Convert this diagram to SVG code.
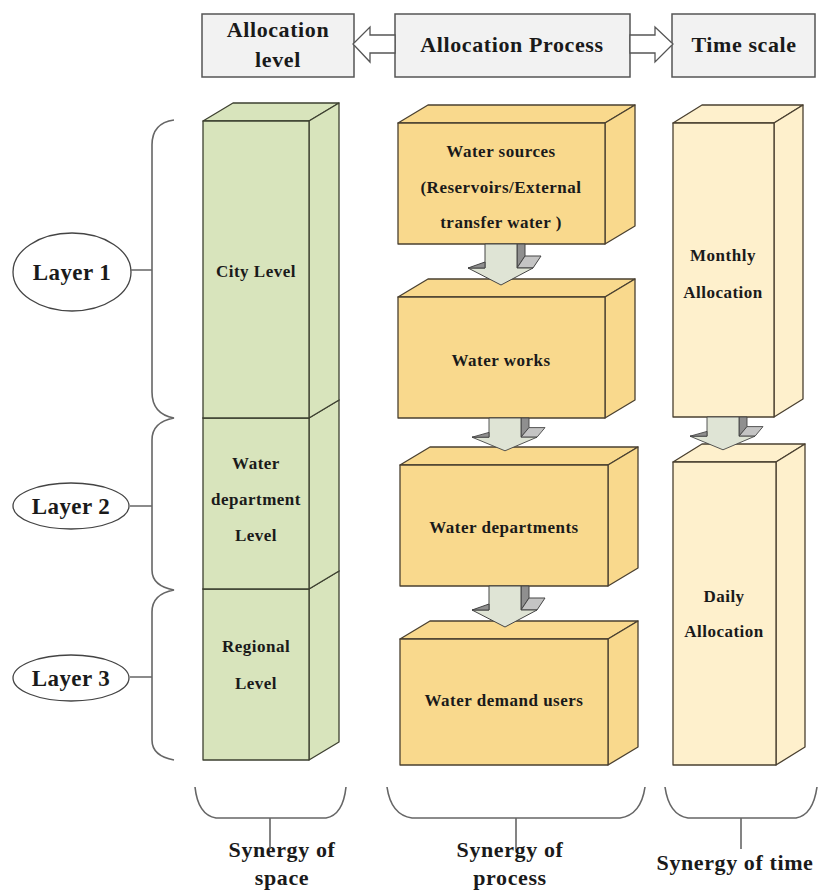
<svg xmlns="http://www.w3.org/2000/svg" width="818" height="890" viewBox="0 0 818 890">
<style>
text{font-family:"Liberation Serif","Times New Roman",serif;font-weight:bold;fill:#1a1a1a;text-anchor:middle}
.hd{font-size:22px;letter-spacing:0.6px}
.bx{font-size:17px;letter-spacing:0.5px}
.ly{font-size:23px;letter-spacing:0.4px}
.sy{font-size:22px;letter-spacing:0.6px}
.hbox{fill:#f2f2f2;stroke:#555;stroke-width:1.5}
.harrow{fill:#fff;stroke:#555;stroke-width:1.3}
.green{fill:#d8e4bc;stroke:#3d4030;stroke-width:1.3;stroke-linejoin:round}
.orange{fill:#f9d98d;stroke:#4a4030;stroke-width:1.3;stroke-linejoin:round}
.cream{fill:#fef0cc;stroke:#4a4030;stroke-width:1.3;stroke-linejoin:round}
.brace{fill:none;stroke:#666;stroke-width:1.6}
.ell{fill:#fff;stroke:#444;stroke-width:1.3}
.afront{fill:#dfe4d5;stroke:#444;stroke-width:1}
.adark{fill:#8f8f8f;stroke:#444;stroke-width:1}
.alight{fill:#c4c4c4;stroke:#444;stroke-width:1}
</style>
<defs>
<g id="downArrow">
<path class="adark" d="M16,0 H24 V12 L16,24 Z"/>
<path class="alight" d="M16,24 L24,12 H40 L32,24 Z"/>
<path class="afront" d="M-16,0 H16 V24 H32 L0,41 L-33,24 H-16 Z"/>
<path class="adark" d="M-33,24 L-16,18 V24 Z"/>
</g>
</defs>

<!-- Header -->
<g id="hdr-level">
<rect class="hbox" x="202" y="14" width="152" height="63"/>
<text class="hd" x="278" y="37">Allocation</text>
<text class="hd" x="278" y="67">level</text>
</g>
<g id="hdr-process">
<rect class="hbox" x="395" y="14" width="235" height="63"/>
<text class="hd" x="512" y="52">Allocation Process</text>
</g>
<g id="hdr-time">
<rect class="hbox" x="672" y="14" width="143" height="63"/>
<text class="hd" x="744" y="52">Time scale</text>
</g>

<!-- Green column -->
<g id="regional">
<polygon class="green" points="203,589 233,571 339,571 309,589"/>
<polygon class="green" points="309,589 339,571 339,742 309,760"/>
<rect class="green" x="203" y="589" width="106" height="171"/>
<text class="bx" x="256" y="652">Regional</text>
<text class="bx" x="256" y="689">Level</text>
</g>
<g id="dept-level">
<polygon class="green" points="203,418 233,400 339,400 309,418"/>
<polygon class="green" points="309,418 339,400 339,571 309,589"/>
<rect class="green" x="203" y="418" width="106" height="171"/>
<text class="bx" x="256" y="469">Water</text>
<text class="bx" x="256" y="505">department</text>
<text class="bx" x="256" y="541">Level</text>
</g>
<g id="city">
<polygon class="green" points="203,121 233,103 339,103 309,121"/>
<polygon class="green" points="309,121 339,103 339,400 309,418"/>
<rect class="green" x="203" y="121" width="106" height="297"/>
<text class="bx" x="256" y="277">City Level</text>
</g>

<!-- Process column -->
<g id="sources">
<polygon class="orange" points="398,123 428,105 635,105 605,123"/>
<polygon class="orange" points="605,123 635,105 635,226 605,244"/>
<rect class="orange" x="398" y="123" width="207" height="121"/>
<text class="bx" x="501" y="157">Water sources</text>
<text class="bx" x="501" y="193">(Reservoirs/External</text>
<text class="bx" x="501" y="228">transfer water )</text>
</g>
<g id="works">
<polygon class="orange" points="398,297 428,279 635,279 605,297"/>
<polygon class="orange" points="605,297 635,279 635,400 605,418"/>
<rect class="orange" x="398" y="297" width="207" height="121"/>
<text class="bx" x="501" y="366">Water works</text>
</g>
<g id="departments">
<polygon class="orange" points="400,465 430,447 638,447 608,465"/>
<polygon class="orange" points="608,465 638,447 638,568 608,586"/>
<rect class="orange" x="400" y="465" width="208" height="121"/>
<text class="bx" x="504" y="533">Water departments</text>
</g>
<g id="users">
<polygon class="orange" points="400,639 430,621 638,621 608,639"/>
<polygon class="orange" points="608,639 638,621 638,747 608,765"/>
<rect class="orange" x="400" y="639" width="208" height="126"/>
<text class="bx" x="504" y="706">Water demand users</text>
</g>

<!-- Time column -->
<g id="daily">
<polygon class="cream" points="673,462 702,444 805,444 776,462"/>
<polygon class="cream" points="776,462 805,444 805,747 776,765"/>
<rect class="cream" x="673" y="462" width="103" height="303"/>
<text class="bx" x="724" y="602">Daily</text>
<text class="bx" x="724" y="637">Allocation</text>
</g>
<g id="monthly">
<polygon class="cream" points="673,123 702,105 803,105 774,123"/>
<polygon class="cream" points="774,123 803,105 803,399 774,417"/>
<rect class="cream" x="673" y="123" width="101" height="294"/>
<text class="bx" x="723" y="261">Monthly</text>
<text class="bx" x="723" y="298">Allocation</text>
</g>

<!-- Layers -->
<g id="layer1">
<ellipse class="ell" cx="72" cy="272" rx="59" ry="39"/>
<text class="ly" x="72" y="280">Layer 1</text>
</g>
<g id="layer2">
<ellipse class="ell" cx="71" cy="506" rx="58" ry="23"/>
<text class="ly" x="71" y="514">Layer 2</text>
</g>
<g id="layer3">
<ellipse class="ell" cx="71" cy="678" rx="58" ry="23"/>
<text class="ly" x="71" y="686">Layer 3</text>
</g>

<!-- Synergy labels -->
<g id="syn-space">
<text class="sy" x="282" y="857">Synergy of</text>
<text class="sy" x="282" y="885">space</text>
</g>
<g id="syn-process">
<text class="sy" x="510" y="857">Synergy of</text>
<text class="sy" x="510" y="885">process</text>
</g>
<g id="syn-time">
<text class="sy" x="735" y="870">Synergy of time</text>
</g>

<!-- Connectors -->
<g id="connectors">
<path class="harrow" d="M395,35 H370 V27 L353,44 L370,62 V53 H395 Z"/>
<path class="harrow" d="M630,35 H655 V27 L673,44 L655,62 V53 H630 Z"/>
<use href="#downArrow" transform="translate(501,244)"/>
<use href="#downArrow" transform="translate(505,418) scale(1,0.8)"/>
<use href="#downArrow" transform="translate(505,586)"/>
<use href="#downArrow" transform="translate(723,417) scale(1,0.8)"/>
<path class="brace" d="M174,120 Q152,123 152,145 V392 Q152,414 174,418 Q152,422 152,440 V570 Q152,586 174,590 Q152,594 152,612 V740 Q152,756 174,760"/>
<path class="brace" d="M130,270 H152 M130,506 H152 M130,677 H152"/>
<path class="brace" d="M195,787 Q198,815 216,818 H326 Q343,815 346,787 M270,818 V849"/>
<path class="brace" d="M387,787 Q391,815 412,818 H620 Q641,815 645,787 M516,818 V849"/>
<path class="brace" d="M665,787 Q669,815 688,818 H796 Q813,815 817,787 M741,818 V849"/>
</g>
</svg>
